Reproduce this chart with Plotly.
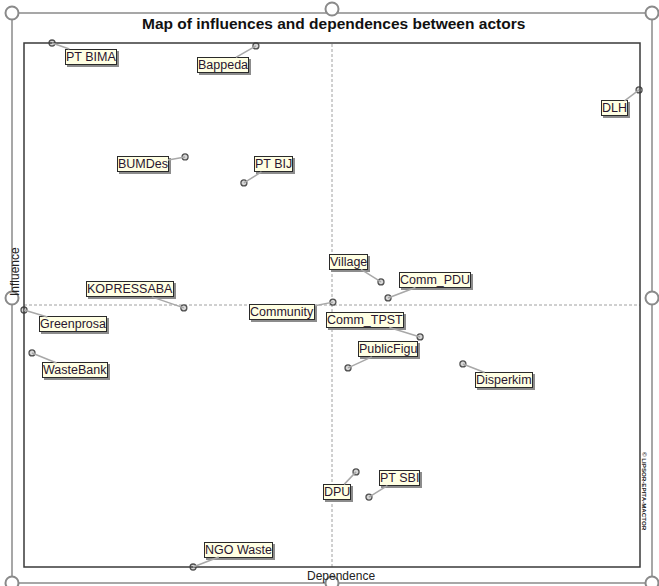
import plotly.graph_objects as go

actors = ["PT BIMA", "Bappeda", "BUMDes", "PT BIJ", "DLH", "Greenprosa", "KOPRESSABA",
          "WasteBank", "Community", "Comm_TPST", "Village", "Comm_PDU", "PublicFigu",
          "Disperkim", "DPU", "PT SBI", "NGO Waste"]
dependence = [0.091, 0.753, 0.523, 0.714, 1.997, 0.000, 0.519,
              0.026, 1.003, 1.286, 1.159, 1.182, 1.052,
              1.425, 1.078, 1.120, 0.549]
influence = [2.000, 1.989, 1.565, 1.466, 1.821, 0.981, 0.989,
             0.817, 1.011, 0.878, 1.088, 1.027, 0.760,
             0.775, 0.363, 0.267, 0.000]
mean_dependence = 1.0
mean_influence = 1.0

# label offsets in pixels (layout only)
label_offsets = {
    "PT BIMA": (39, 13.5), "Bappeda": (-33, 19), "BUMDes": (-42.5, 7.5),
    "PT BIJ": (29.5, -18.5), "DLH": (-24.5, 18.5), "Greenprosa": (48.5, 14.5),
    "KOPRESSABA": (-54, -18.5), "WasteBank": (43, 17.5), "Community": (-50.5, 10),
    "Comm_TPST": (-55, -17), "Village": (-32, -20), "Comm_PDU": (47, -18),
    "PublicFigu": (40, -18.5), "Disperkim": (41, 16), "DPU": (-19, 20),
    "PT SBI": (30.5, -19), "NGO Waste": (45, -17.5),
}

W, H = 659, 586
L, R, T, B = 24, 640, 43, 567
FONT = "Liberation Sans, Arial, sans-serif"
LBL = 12.5


def px(x):
    return (x - L) / (R - L)


def py(y):
    return (B - y) / (B - T)


fig = go.Figure()

# points
fig.add_trace(go.Scatter(
    x=dependence, y=influence, mode="markers", cliponaxis=False,
    marker=dict(size=6, color="#d8d8d8", line=dict(color="#505050", width=1.3)),
    hoverinfo="text", text=actors, showlegend=False,
))

annotations = []
for name, xv, yv in zip(actors, dependence, influence):
    ax, ay = label_offsets[name]
    # shadow
    annotations.append(dict(
        x=xv, y=yv, xref="x", yref="y", text=name, showarrow=True,
        ax=ax + 2, ay=ay + 2, arrowcolor="rgba(0,0,0,0)", arrowwidth=0.5, arrowhead=0,
        font=dict(family=FONT, size=LBL, color="rgba(0,0,0,0)"),
        bgcolor="#8c8c8c", bordercolor="#8c8c8c", borderwidth=1, borderpad=0,
    ))
    annotations.append(dict(
        x=xv, y=yv, xref="x", yref="y", text=name, showarrow=True,
        ax=ax, ay=ay, arrowcolor="#a8a8a8", arrowwidth=1.5, arrowhead=0,
        font=dict(family=FONT, size=LBL, color="#2a1630"),
        bgcolor="#ffffe3", bordercolor="#2a2a2a", borderwidth=1, borderpad=0,
    ))

# titles / labels
annotations.append(dict(
    x=px(333), y=py(24), xref="paper", yref="paper", showarrow=False,
    xanchor="center", yanchor="middle",
    text="<b>Map of influences and dependences between actors</b>",
    font=dict(family=FONT, size=15.5, color="#111111"),
))
annotations.append(dict(
    x=px(341), y=py(576), xref="paper", yref="paper", showarrow=False,
    xanchor="center", yanchor="middle",
    text="Dependence", font=dict(family=FONT, size=12, color="#222222"),
))
annotations.append(dict(
    x=px(15), y=py(272), xref="paper", yref="paper", showarrow=False,
    xanchor="center", yanchor="middle",
    text="Influence", textangle=-90, font=dict(family=FONT, size=12, color="#222222"),
))
annotations.append(dict(
    x=px(645), y=py(491), xref="paper", yref="paper", showarrow=False,
    xanchor="center", yanchor="middle",
    text="<b>© LIPSOR-EPITA-MACTOR</b>", textangle=90,
    font=dict(family=FONT, size=6.2, color="#222222"),
))

shapes = []
# mean lines
shapes.append(dict(type="line", xref="x", yref="paper", x0=mean_dependence, x1=mean_dependence,
                   y0=0, y1=1, line=dict(color="#a0a0a0", width=1, dash="3px,2px"), layer="below"))
shapes.append(dict(type="line", xref="paper", yref="y", x0=0, x1=1,
                   y0=mean_influence, y1=mean_influence,
                   line=dict(color="#a0a0a0", width=1, dash="3px,2px"), layer="below"))
# plot frame
shapes.append(dict(type="rect", xref="paper", yref="paper", x0=0, x1=1, y0=0, y1=1,
                   line=dict(color="#3a3a3a", width=1.5)))
# outer selection frame
OL, OR_, OT, OB = 12, 652, 13, 583
shapes.append(dict(type="rect", xref="paper", yref="paper", x0=px(OL), x1=px(OR_),
                   y0=py(OB), y1=py(OT), line=dict(color="#8a8a8a", width=1.5)))
rad = 6.5
for cx, cy in [(OL, OT), (332, 9), (OR_, OT), (OL, 298), (OR_, 298),
               (OL, OB), (332, OB), (OR_, OB)]:
    shapes.append(dict(type="circle", xref="paper", yref="paper",
                       x0=px(cx - rad), x1=px(cx + rad), y0=py(cy + rad), y1=py(cy - rad),
                       fillcolor="white", line=dict(color="#8a8a8a", width=2)))

fig.update_layout(
    width=W, height=H,
    margin=dict(l=L, r=W - R, t=T, b=H - B),
    paper_bgcolor="white", plot_bgcolor="white",
    xaxis=dict(range=[0, 2], showgrid=False, zeroline=False, showticklabels=False, ticks=""),
    yaxis=dict(range=[0, 2], showgrid=False, zeroline=False, showticklabels=False, ticks=""),
    annotations=annotations, shapes=shapes, showlegend=False,
)

fig.write_html(
    "out.html",
    config={"displayModeBar": False},
    post_script="document.body.style.margin='0';document.body.style.overflow='hidden';",
)
